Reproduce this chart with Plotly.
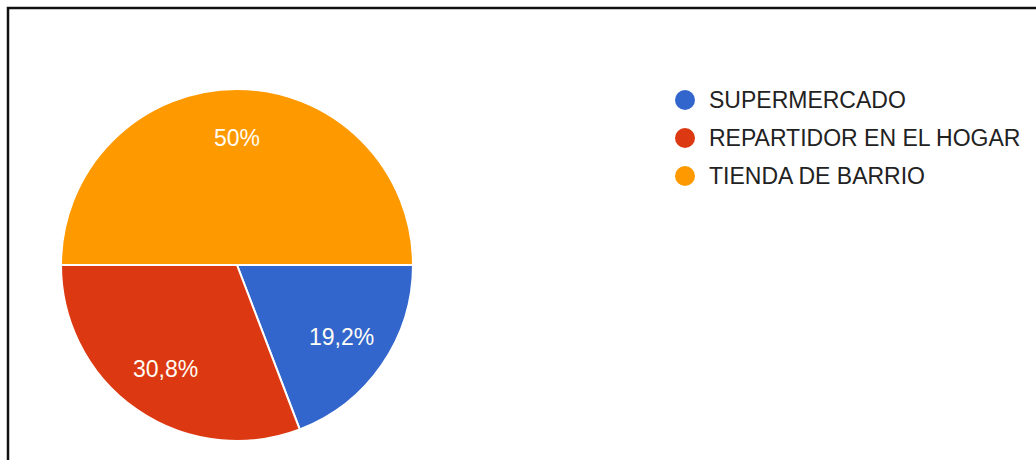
import math
import plotly.graph_objects as go

# Share of respondents by place of purchase
labels = ["SUPERMERCADO", "REPARTIDOR EN EL HOGAR", "TIENDA DE BARRIO"]
values = [19.2, 30.8, 50.0]
colors = ["#3366CC", "#DC3912", "#FF9900"]

W, H = 1036, 460
FONT = "Arial, Liberation Sans, sans-serif"

# Pie geometry in pixels
CX, CY, R = 237, 265, 176
START_DEG = 0.0  # first slice starts at 3 o'clock, going clockwise
LABEL_FRAC = 0.72

# Percent labels written with a decimal comma
text = [f"{v:g}%".replace(".", ",") for v in values]

fig = go.Figure()
fig.add_trace(go.Pie(
    labels=labels,
    values=values,
    text=text,
    textinfo="none",
    marker=dict(colors=colors, line=dict(color="white", width=2)),
    sort=False,
    direction="clockwise",
    rotation=90,
    showlegend=False,
    hoverinfo="label+percent",
    domain=dict(x=[(CX - R) / W, (CX + R) / W],
                y=[(H - CY - R) / H, (H - CY + R) / H]),
))

shapes = [
    # outer frame
    dict(type="rect", xref="paper", yref="paper",
         x0=8 / W, x1=1.02, y0=-0.02, y1=1 - 8 / H,
         line=dict(color="#111111", width=2.5), fillcolor="rgba(0,0,0,0)"),
]
annotations = []

# Slice labels at the middle angle of each slice
total = sum(values)
acc = 0.0
for v, t in zip(values, text):
    mid = START_DEG + (acc + v / 2) / total * 360.0
    acc += v
    a = math.radians(mid)
    px = CX + LABEL_FRAC * R * math.cos(a)
    py = CY + LABEL_FRAC * R * math.sin(a)
    annotations.append(dict(xref="paper", yref="paper",
                            x=px / W, y=1 - py / H,
                            xanchor="center", yanchor="middle",
                            text=t, showarrow=False,
                            font=dict(family=FONT, size=23, color="#FFFDF5")))

# Legend: coloured dots with labels
lx, ly0, lgap, r = 685, 100, 38, 10
for i, (lab, col) in enumerate(zip(labels, colors)):
    cy = ly0 + i * lgap
    shapes.append(dict(type="circle", xref="paper", yref="paper",
                       x0=(lx - r) / W, x1=(lx + r) / W,
                       y0=1 - (cy + r) / H, y1=1 - (cy - r) / H,
                       fillcolor=col, line=dict(width=0)))
    annotations.append(dict(xref="paper", yref="paper",
                            x=(lx + 22) / W, y=1 - cy / H,
                            xanchor="left", yanchor="middle",
                            text=lab, showarrow=False,
                            font=dict(family=FONT, size=23, color="#222222")))

fig.update_layout(
    width=W, height=H,
    margin=dict(l=0, r=0, t=0, b=0),
    paper_bgcolor="white",
    plot_bgcolor="white",
    shapes=shapes,
    annotations=annotations,
)

fig.write_html("out.html")
